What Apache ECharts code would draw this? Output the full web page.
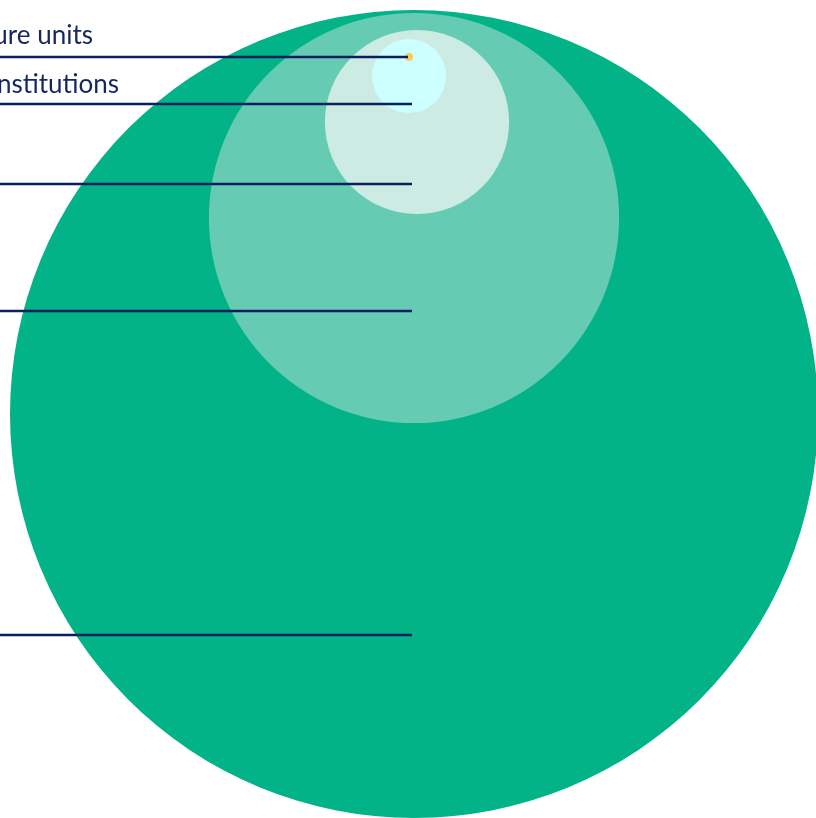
<!DOCTYPE html>
<html>
<head>
<meta charset="utf-8">
<script src="https://cdn.jsdelivr.net/npm/echarts@6/dist/echarts.min.js"></script>
<style>html,body{margin:0;padding:0;background:#fff;}#c{width:816px;height:818px;}</style>
</head>
<body>
<div id="c"></div>
<script>
// Data (nested populations, outermost first)
var labels = ['All units', 'Organisations', 'Enterprises', 'Research institutions', 'Infrastructure units'];
var values = [163000, 42000, 8470, 1370, 16];
var colors = ['#02B388', '#66CBB3', '#CCEBE2', '#CCFFFF', '#FFC85A'];

// Layout (pixel space): circle centres and label line heights
var centerX = [414, 414, 417, 409, 409];
var centerY = [414, 218, 122, 76, 57];
var lineY = [635, 311, 184, 104, 57];
var lineEndX = [412, 412, 412, 412, 408];
var labelRight = [-20, -20, -20, 119, 93];
var labelBottom = [-7, -7, -7, -6, -8];

var maxR = 404;
var k = maxR / Math.sqrt(values[0]);

var circleData = values.map(function (v, i) { return [centerX[i], centerY[i], v, i]; });
var lineData = values.map(function (v, i) { return [lineEndX[i], lineY[i], i]; });

var chart = echarts.init(document.getElementById('c'));
chart.setOption({
  animation: false,
  grid: {left: 0, right: 0, top: 0, bottom: 0},
  xAxis: {type: 'value', min: 0, max: 816, show: false},
  yAxis: {type: 'value', min: 0, max: 818, inverse: true, show: false},
  series: [
    {
      type: 'custom',
      data: circleData,
      clip: false,
      renderItem: function (params, api) {
        var c = api.coord([api.value(0), api.value(1)]);
        var r = api.size([Math.sqrt(api.value(2)) * k, 0])[0];
        var i = api.value(3);
        return {type: 'circle', shape: {cx: c[0], cy: c[1], r: r}, style: {fill: colors[i]}, z2: i};
      }
    },
    {
      type: 'custom',
      data: lineData,
      clip: false,
      z: 5,
      renderItem: function (params, api) {
        var i = api.value(2);
        var end = api.coord([api.value(0), api.value(1)]);
        var start = api.coord([-200, api.value(1)]);
        return {
          type: 'group',
          children: [
            {type: 'line', shape: {x1: start[0], y1: end[1], x2: end[0], y2: end[1]}, style: {stroke: '#0A1F5E', lineWidth: 2.5}},
            {type: 'text', style: {text: labels[i], x: labelRight[i], y: end[1] + labelBottom[i], align: 'right', verticalAlign: 'bottom', fill: '#14285E', font: '26px Lato'}}
          ]
        };
      }
    }
  ]
});
</script>
</body>
</html>
